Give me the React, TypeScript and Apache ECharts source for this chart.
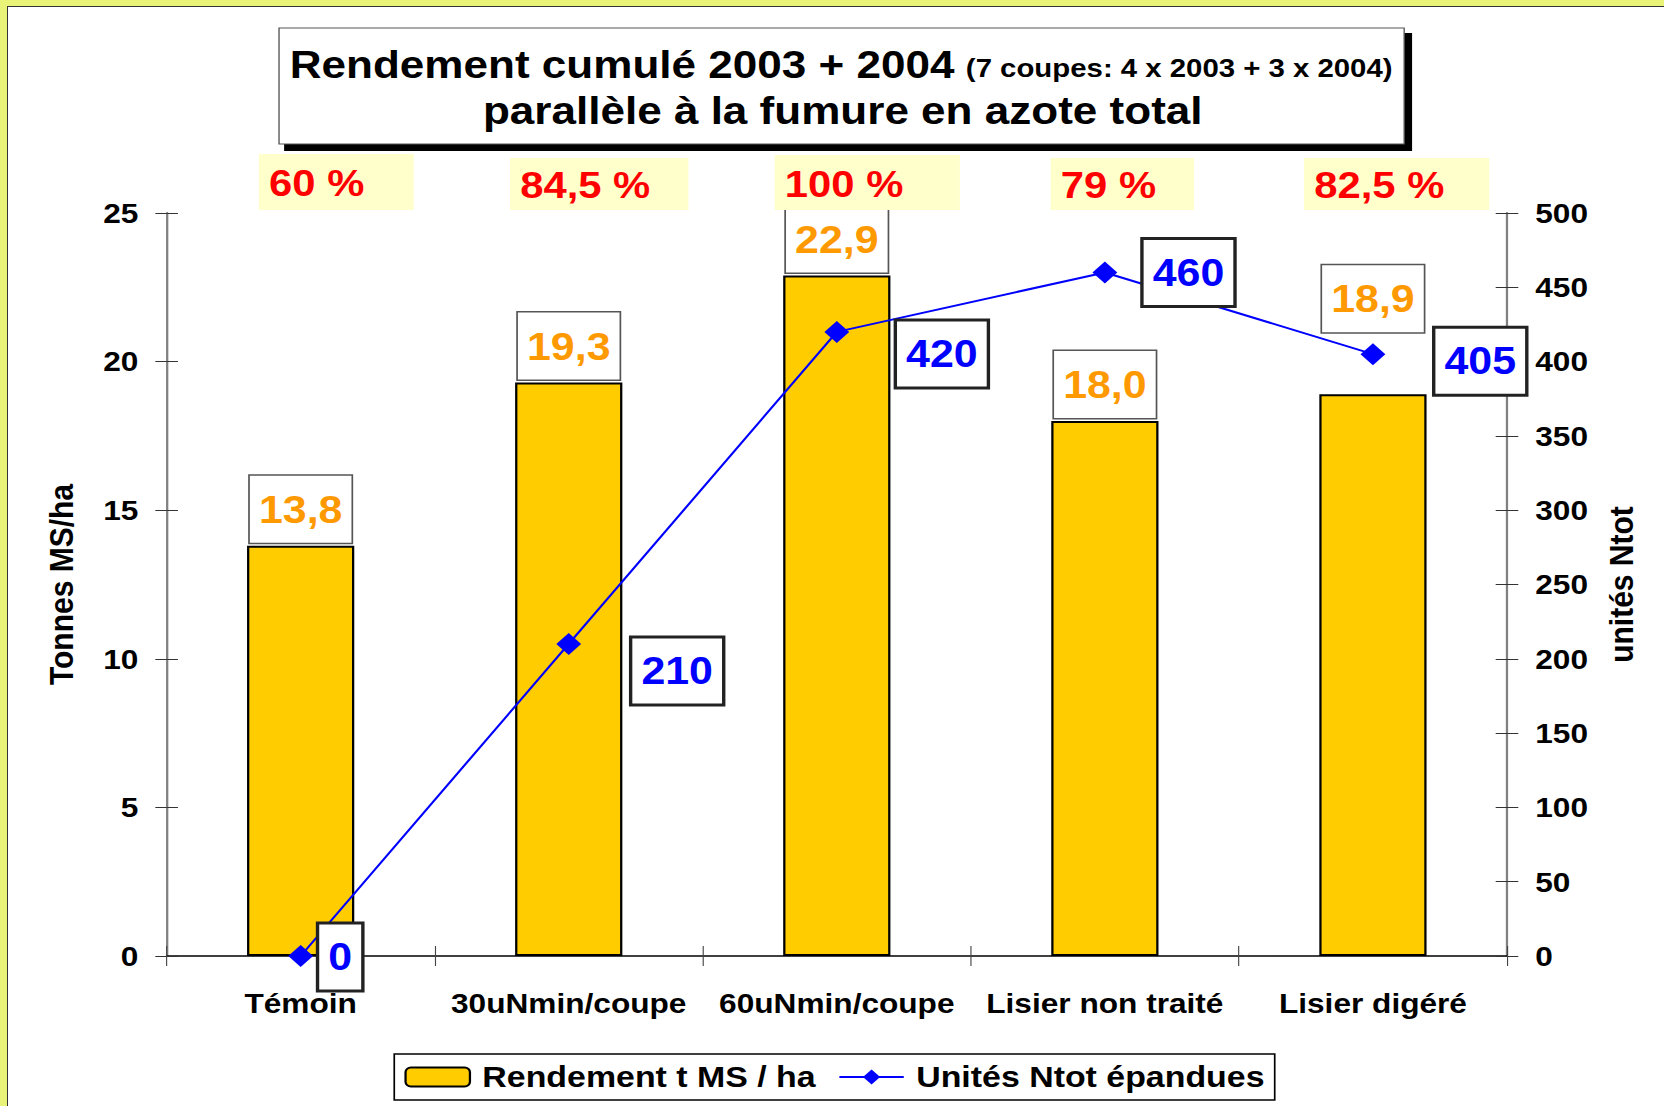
import React, { useEffect, useRef } from "react";
import * as echarts from "echarts";

// ---------- data ----------
const categories = ["Témoin", "30uNmin/coupe", "60uNmin/coupe", "Lisier non traité", "Lisier digéré"];
const yieldValues = [13.8, 19.3, 22.9, 18.0, 18.9]; // Rendement t MS / ha
const nitrogenUnits = [0, 210, 420, 460, 405]; // Unités Ntot épandues
const efficiencyLabels = ["60 %", "84,5 %", "100 %", "79 %", "82,5 %"];
const leftAxis = { min: 0, max: 25, interval: 5 };
const rightAxis = { min: 0, max: 500, interval: 50 };
const titleMain = "Rendement cumulé 2003 + 2004";
const titleSub = "(7 coupes: 4 x 2003 + 3 x 2004)";
const titleLine2 = "parallèle à la fumure en azote total";
const seriesNames = ["Rendement t MS / ha", "Unités Ntot épandues"];
const axisNames = ["Tonnes MS/ha", "unités Ntot"];

// ---------- layout (chart drawn in a horizontally stretched frame) ----------
const PAGE_W = 1664;
const PAGE_H = 1106;
const INNER_W = 1473;
const S = PAGE_W / INNER_W;
const FONT = '"Liberation Sans", Arial, Helvetica, sans-serif';

const barLabelOffsets = [[0, 0], [0, 0], [0, 0], [0, 0], [0, -59]];
const lineLabelOffsets = [[35, 1], [96, 27], [93, 22], [74, 0], [95, 7]];
const pctBoxDx = [-37, -52, -55, -48, -61];
const pctBoxW = [137, 158, 164, 127, 164];
const pctBoxTop = [154, 158, 155, 158, 158];
const pctBoxBottom = 210;

function fmtComma(v: number) {
  return v.toFixed(1).replace(".", ",");
}

export default function App() {
  const ref = useRef<HTMLDivElement>(null);

  useEffect(() => {
    const chart = echarts.init(ref.current!, null, { renderer: "svg" });
    const axisLabelStyle = { color: "#000", fontSize: 28, fontWeight: "bold" as const, fontFamily: FONT };

    const option: any = {
      animation: false,
      backgroundColor: "transparent",
      grid: { left: 147.5, right: 139, top: 213, bottom: 150, containLabel: false },
      legend: {
        left: 349,
        top: 1054,
        backgroundColor: "#fff",
        borderColor: "#000",
        borderWidth: 1.5,
        borderRadius: 0,
        padding: [8, 9, 8, 9],
        itemWidth: 57,
        itemHeight: 19,
        itemGap: 20,
        textStyle: { color: "#000", fontSize: 30, fontWeight: "bold", fontFamily: FONT, lineHeight: 30, padding: [0, 0, 0, 6] },
        data: seriesNames,
      },
      xAxis: [
        {
          type: "category",
          data: categories,
          position: "bottom",
          boundaryGap: true,
          axisLine: { show: true, lineStyle: { color: "#000", width: 1.5 } },
          axisTick: { show: true, inside: false, length: 10, lineStyle: { color: "#444", width: 1 } },
          axisLabel: { ...axisLabelStyle, interval: 0, margin: 33 },
          splitLine: { show: false },
        },
        {
          type: "category",
          data: categories,
          position: "bottom",
          boundaryGap: true,
          axisLine: { show: false },
          axisTick: { show: true, inside: true, length: 10, lineStyle: { color: "#444", width: 1 } },
          axisLabel: { show: false },
          splitLine: { show: false },
        },
      ],
      yAxis: [
        {
          type: "value",
          position: "left",
          ...leftAxis,
          name: axisNames[0],
          nameLocation: "middle",
          nameRotate: 90,
          nameGap: 78,
          nameTextStyle: { color: "#000", fontSize: 30, fontWeight: "bold", fontFamily: FONT },
          axisLine: { show: true, lineStyle: { color: "#808080", width: 2 } },
          axisTick: { show: true, inside: false, length: 10, lineStyle: { color: "#333", width: 1 } },
          axisLabel: { ...axisLabelStyle, margin: 25 },
          splitLine: { show: false },
        },
        {
          type: "value",
          position: "right",
          ...rightAxis,
          name: axisNames[1],
          nameLocation: "middle",
          nameRotate: 90,
          nameGap: 86,
          nameTextStyle: { color: "#000", fontSize: 30, fontWeight: "bold", fontFamily: FONT },
          axisLine: { show: true, lineStyle: { color: "#808080", width: 2 } },
          axisTick: { show: true, inside: false, length: 10, lineStyle: { color: "#333", width: 1 } },
          axisLabel: { ...axisLabelStyle, margin: 25 },
          splitLine: { show: false },
        },
        {
          type: "value",
          position: "left",
          ...leftAxis,
          axisLine: { show: false },
          axisTick: { show: true, inside: true, length: 10, lineStyle: { color: "#333", width: 1 } },
          axisLabel: { show: false },
          splitLine: { show: false },
        },
        {
          type: "value",
          position: "right",
          ...rightAxis,
          axisLine: { show: false },
          axisTick: { show: true, inside: true, length: 10, lineStyle: { color: "#333", width: 1 } },
          axisLabel: { show: false },
          splitLine: { show: false },
        },
      ],
      series: [
        {
          name: seriesNames[0],
          type: "bar",
          xAxisIndex: 0,
          yAxisIndex: 0,
          barWidth: "40%",
          itemStyle: { color: "#ffcc00", borderColor: "#000", borderWidth: 2 },
          label: {
            show: true,
            position: "top",
            distance: 3,
            formatter: (p: any) => fmtComma(p.value),
            color: "#ff9900",
            fontSize: 38,
            fontWeight: "bold",
            fontFamily: FONT,
            lineHeight: 38,
            backgroundColor: "#fff",
            borderColor: "#555",
            borderWidth: 1.5,
            padding: [15, 8, 14, 8],
          },
          data: yieldValues.map((v, i) => ({ value: v, label: { offset: barLabelOffsets[i] } })),
          z: 2,
        },
        {
          name: seriesNames[1],
          type: "line",
          xAxisIndex: 0,
          yAxisIndex: 1,
          symbol: "diamond",
          symbolSize: [22, 22],
          itemStyle: { color: "#0000ff" },
          lineStyle: { color: "#0000ff", width: 2 },
          label: {
            show: true,
            position: "inside",
            align: "center",
            verticalAlign: "middle",
            formatter: (p: any) => String(p.value),
            color: "#0000ff",
            fontSize: 38,
            fontWeight: "bold",
            fontFamily: FONT,
            lineHeight: 38,
            backgroundColor: "#fff",
            borderColor: "#222",
            borderWidth: 3,
            padding: [14, 8, 13, 8],
          },
          data: nitrogenUnits.map((v, i) => ({ value: v, label: { offset: lineLabelOffsets[i] } })),
          z: 5,
        },
      ],
    };
    chart.setOption(option);

    const centers = categories.map((c) => chart.convertToPixel({ xAxisIndex: 0 }, c) as number);
    const txt = (x: number, y: number, text: string, size: number, fill: string, align: string) => ({
      type: "text",
      x,
      y,
      z: 20,
      style: {
        text,
        fill,
        fontSize: size,
        fontWeight: "bold",
        fontFamily: FONT,
        textAlign: align,
        align,
        textVerticalAlign: "middle",
        verticalAlign: "middle",
      },
    });

    const graphic: any[] = [
      { type: "rect", z: 18, shape: { x: 251.5, y: 33, width: 998.5, height: 118 }, style: { fill: "#000" } },
      { type: "rect", z: 19, shape: { x: 247, y: 28, width: 996, height: 116 }, style: { fill: "#fff", stroke: "#555", lineWidth: 1.2 } },
      txt(256.5, 64, titleMain, 39, "#000", "left"),
      txt(855, 68.5, titleSub, 26, "#000", "left"),
      txt(746, 110.5, titleLine2, 39, "#000", "center"),
    ];
    efficiencyLabels.forEach((lab, i) => {
      const x0 = centers[i] + pctBoxDx[i];
      const top = pctBoxTop[i];
      graphic.push({
        type: "rect",
        z: 10,
        shape: { x: x0, y: top, width: pctBoxW[i], height: pctBoxBottom - top },
        style: { fill: "#ffffcc" },
      });
      graphic.push(txt(x0 + 9, (top + pctBoxBottom) / 2 + 1, lab, 37, "#ff0000", "left"));
    });
    chart.setOption({ graphic });

    return () => chart.dispose();
  }, []);

  return (
    <div
      style={{
        position: "fixed",
        left: 0,
        top: 0,
        width: PAGE_W,
        height: PAGE_H,
        background: "#e9f377",
        overflow: "hidden",
      }}
    >
      <div
        style={{
          position: "absolute",
          left: 7,
          top: 6,
          width: PAGE_W,
          height: PAGE_H,
          background: "#fff",
          borderLeft: "1.5px solid #333",
          borderTop: "1.5px solid #333",
        }}
      />
      <div
        ref={ref}
        style={{
          position: "absolute",
          left: 0,
          top: 0,
          width: INNER_W,
          height: PAGE_H,
          transform: `scaleX(${S})`,
          transformOrigin: "0 0",
        }}
      />
    </div>
  );
}
